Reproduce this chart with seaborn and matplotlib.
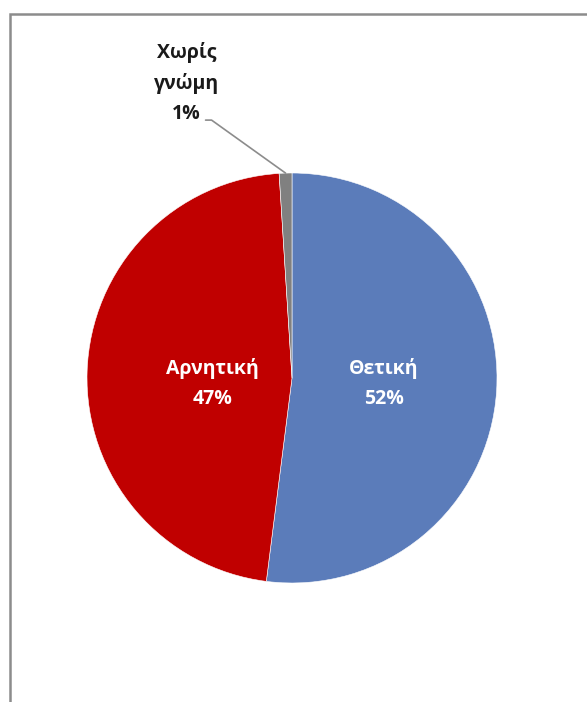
import matplotlib
matplotlib.use("Agg")
import matplotlib.pyplot as plt
import seaborn as sns
import numpy as np
from matplotlib.patches import Rectangle

categories = ["Θετική", "Αρνητική", "Χωρίς γνώμη"]
values = [52, 47, 1]
label_names = ["Θετική", "Αρνητική", "Χωρίς\nγνώμη"]
colors = ["#5B7CBA", "#C00000", "#808080"]

sns.set_theme(style="white")
plt.rcParams['font.family'] = ['Open Sans', 'DejaVu Sans']

W, H = 587, 702
fig = plt.figure(figsize=(W / 100, H / 100), dpi=100)
fig.patch.set_facecolor("white")
ax = fig.add_axes([0, 0, 1, 1])

# outer frame (extends past right and bottom edges)
fig.patches.append(Rectangle((9.5 / W, -0.1), 2, (H - 13.5) / H + 0.1,
                             transform=fig.transFigure, fill=False,
                             edgecolor="#8C8C8C", linewidth=1.8))

cx, cy, R = 292, H - 378, 205
wedges, _ = ax.pie(values, colors=colors, startangle=90, counterclock=False,
                   center=(cx, cy), radius=R, frame=True,
                   wedgeprops=dict(edgecolor="white", linewidth=0.4))
ax.set_xlim(0, W)
ax.set_ylim(0, H)
ax.set_aspect("equal")
ax.axis("off")

total = sum(values)
dists = [0.45, 0.39]
yshift = [0, -8]
for i in range(2):
    w = wedges[i]
    ang = np.deg2rad((w.theta1 + w.theta2) / 2)
    x = cx + dists[i] * R * np.cos(ang)
    y = cy + dists[i] * R * np.sin(ang) + yshift[i]
    ax.text(x, y, f"{label_names[i]}\n{round(values[i] / total * 100)}%",
            ha="center", va="center", color="white", fontsize=14,
            fontweight="bold", linespacing=1.65)

# small slice: outside label with leader line
w = wedges[2]
ang = np.deg2rad((w.theta1 + w.theta2) / 2)
px = cx + R * np.cos(ang)
py = cy + R * np.sin(ang)
ax.plot([px, px - 74, px - 80], [py, py + 53, py + 53], color="#8C8C8C", lw=1.2)
ax.text(px - 99, py + 49, f"{label_names[2]}\n{round(values[2] / total * 100)}%",
        ha="center", va="bottom", color="#1a1a1a", fontsize=14,
        fontweight="bold", linespacing=1.65)

fig.savefig("out.png", dpi=100, facecolor="white")
